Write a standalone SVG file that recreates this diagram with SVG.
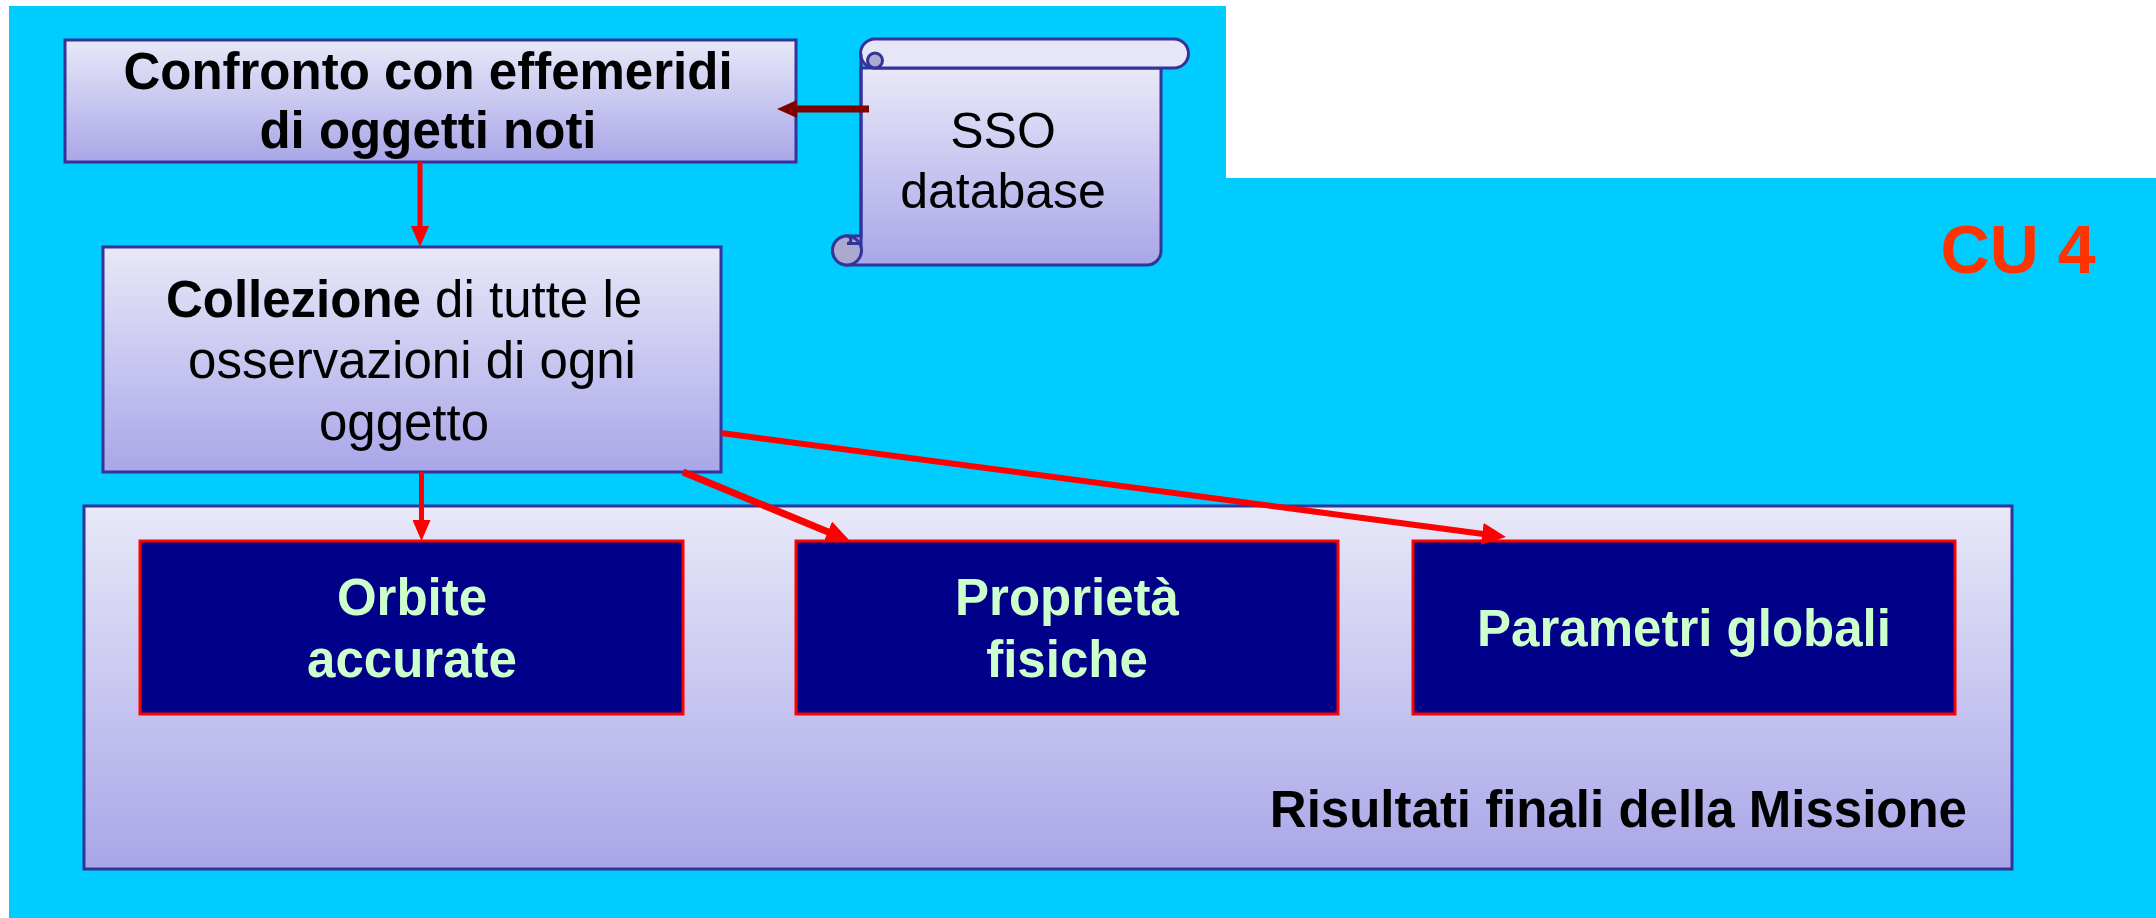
<svg xmlns="http://www.w3.org/2000/svg" width="2156" height="918" viewBox="0 0 2156 918">
  <style>
    .box { stroke: #333399; stroke-width: 3; }
    .result { fill: #000088; stroke: #FF0000; stroke-width: 3; }
    .txt { font-family: "Liberation Sans", Arial, sans-serif; font-size: 51px; fill: #000000; text-anchor: middle; }
    .bold { font-weight: bold; }
    .rtxt { font-family: "Liberation Sans", Arial, sans-serif; font-size: 51px; font-weight: bold; fill: #CCFFCC; text-anchor: middle; }
    .link { stroke: #FF0000; fill: none; }
    .roll { fill: #ABA9CE; stroke: #333399; stroke-width: 3; }
  </style>
  <defs>
    <linearGradient id="lav" x1="0" y1="0" x2="0" y2="1">
      <stop offset="0" stop-color="#E8E8F8"/>
      <stop offset="1" stop-color="#A9A6E8"/>
    </linearGradient>
    <marker id="head-red" markerUnits="userSpaceOnUse" viewBox="0 0 24 22" markerWidth="24" markerHeight="22" refX="3" refY="11" orient="auto">
      <path d="M0,0 L24,11 L0,22 Z" fill="#FF0000"/>
    </marker>
    <marker id="head-red-sm" markerUnits="userSpaceOnUse" viewBox="0 0 21 18" markerWidth="21" markerHeight="18" refX="3" refY="9" orient="auto">
      <path d="M0,0 L21,9 L0,18 Z" fill="#FF0000"/>
    </marker>
    <marker id="head-dark" markerUnits="userSpaceOnUse" viewBox="0 0 20 18" markerWidth="20" markerHeight="18" refX="3" refY="9" orient="auto">
      <path d="M0,0 L20,9 L0,18 Z" fill="#800000"/>
    </marker>
  </defs>

  <!-- page background -->
  <rect x="0" y="0" width="2156" height="918" fill="#FFFFFF"/>
  <polygon points="9,6 1226,6 1226,178 2156,178 2156,918 9,918" fill="#00CCFF"/>

  <!-- slide tag -->
  <text x="2018" y="273" font-family="Liberation Sans, Arial, sans-serif" font-size="68" font-weight="bold" fill="#FF3300" text-anchor="middle">CU 4</text>

  <!-- container for final results -->
  <g id="risultati">
    <rect class="box" x="84" y="506" width="1928" height="363" fill="url(#lav)"/>
    <text class="txt bold" x="1967" y="827" style="text-anchor:end">Risultati finali della Missione</text>
  </g>

  <g id="confronto">
    <rect class="box" x="65" y="40" width="731" height="122" fill="url(#lav)"/>
    <text class="txt bold" x="428" y="89">Confronto con effemeridi</text>
    <text class="txt bold" x="428" y="148">di oggetti noti</text>
  </g>

  <!-- scroll-shaped database -->
  <g id="sso-database">
    <path class="box" d="M861,68 H1161 V251 A14,14 0 0 1 1147,265 H847 A14.5,14.5 0 0 1 847,236 H861 Z" fill="url(#lav)"/>
    <path class="box" d="M875,39 H1174 A14.5,14.5 0 0 1 1174,68 H875 A14.5,14.5 0 0 1 875,39 Z" fill="#E6E6F8"/>
    <path class="roll" d="M875,68 A7.5,7.5 0 0 1 875,53 A7.5,7.5 0 0 1 882.5,60.5 A7.5,7.5 0 0 1 875,68 Z"/>
    <line x1="861" y1="54" x2="861" y2="250" stroke="#333399" stroke-width="3"/>
    <circle class="roll" cx="847" cy="250.5" r="14.5"/>
    <path d="M847,236 A3.8,3.8 0 0 1 847,243.6 H861" fill="none" stroke="#333399" stroke-width="3"/>
    <text class="txt" x="1003" y="148" style="font-size:50px">SSO</text>
    <text class="txt" x="1003" y="208" style="font-size:50px">database</text>
  </g>

  <g id="collezione">
    <rect class="box" x="103" y="247" width="618" height="225" fill="url(#lav)"/>
    <text class="txt" x="404" y="317"><tspan font-weight="bold">Collezione</tspan> di tutte le</text>
    <text class="txt" x="412" y="378">osservazioni di ogni</text>
    <text class="txt" x="404" y="440">oggetto</text>
  </g>

  <g id="orbite">
    <rect class="result" x="140" y="541" width="543" height="173"/>
    <text class="rtxt" x="412" y="615">Orbite</text>
    <text class="rtxt" x="412" y="677">accurate</text>
  </g>

  <g id="proprieta">
    <rect class="result" x="796" y="541" width="542" height="173"/>
    <text class="rtxt" x="1067" y="615">Proprietà</text>
    <text class="rtxt" x="1067" y="677">fisiche</text>
  </g>

  <g id="parametri">
    <rect class="result" x="1413" y="541" width="542" height="173"/>
    <text class="rtxt" x="1684" y="646">Parametri globali</text>
  </g>

  <!-- connectors -->
  <g id="connectors">
    <line x1="869" y1="109" x2="794" y2="109" stroke="#800000" stroke-width="7" marker-end="url(#head-dark)"/>
    <line class="link" x1="420" y1="162" x2="420" y2="229" stroke-width="5" marker-end="url(#head-red-sm)"/>
    <line class="link" x1="421.5" y1="472" x2="421.5" y2="523" stroke-width="5" marker-end="url(#head-red-sm)"/>
    <line class="link" x1="683" y1="472" x2="830.6" y2="532.9" stroke-width="7" marker-end="url(#head-red)"/>
    <line class="link" x1="721" y1="433" x2="1485.2" y2="534.2" stroke-width="6" marker-end="url(#head-red)"/>
  </g>
</svg>
